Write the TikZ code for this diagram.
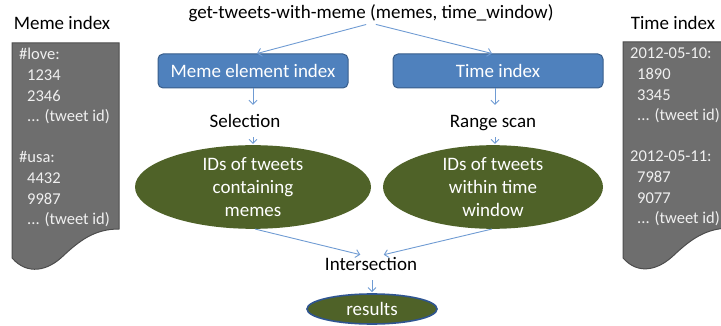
\documentclass[tikz,border=0pt]{standalone}
\usepackage{fontspec}
\setmainfont{Carlito}
\usetikzlibrary{arrows.meta,shapes.geometric,calc}
\definecolor{docfill}{HTML}{6E6E6E}
\definecolor{docline}{HTML}{4D4D4D}
\definecolor{doctxt}{HTML}{F0F0F0}
\definecolor{boxfill}{HTML}{4F81BD}
\definecolor{boxline}{HTML}{385D8A}
\definecolor{olive}{HTML}{4F6228}
\definecolor{arrowc}{HTML}{6F9BD3}
\definecolor{resline}{HTML}{2F5590}
\tikzset{
  lbl/.style={font=\fontsize{19}{22}\selectfont, inner sep=0pt, text height=13pt, text depth=4pt, anchor=base},
  doctext/.style={font=\fontsize{16.5}{20}\selectfont, text=doctxt, inner sep=0pt, anchor=base west},
  bluebox/.style={draw=boxline, fill=boxfill, line width=1pt, rounded corners=5pt, text=white,
    font=\fontsize{19}{22}\selectfont, minimum height=34pt, inner sep=0pt},
  olivell/.style={ellipse, fill=olive, text=white, font=\fontsize{19}{23}\selectfont, align=center, inner sep=0pt},
  arr/.style={draw=arrowc, line width=0.9pt, -{Straight Barb[length=4pt,width=8pt]}},
  docshape/.style={fill=docfill, draw=docline, line width=1pt}
}
\begin{document}
\begin{tikzpicture}[x=1pt,y=-1pt]
\useasboundingbox (0,0) rectangle (721,326);
% Left document
\path[docshape] (12,43) -- (119,43) -- (119,229)
  .. controls (95,229) and (80,240) .. (62,257)
  .. controls (48,270) and (28,276) .. (12,258) -- cycle;
\node[lbl] (memeidx) at (62,30) {Meme index};
\foreach \t/\x/\y [count=\i] in {\#love:/19/60, 1234/27/80.6, 2346/27/101.2, {... (tweet id)}/27/121.8,
   \#usa:/19/163, 4432/27/183.6, 9987/27/204.2, {... (tweet id)}/27/224.8}
  \node[doctext] (ml\i) at (\x,\y) {\t};
% Right document (clipped at the picture's edge)
\begin{scope}
\clip (0,0) rectangle (721,326);
\path[docshape] (623,42) -- (731,42) -- (731,228)
  .. controls (706,228) and (691,239) .. (673,256)
  .. controls (659,269) and (639,276) .. (623,258) -- cycle;
\foreach \t/\x/\y [count=\i] in {2012-05-10:/630/59, 1890/637/79.6, 3345/637/100.2, {... (tweet id)}/637/120.8,
   2012-05-11:/630/162, 7987/637/182.6, 9077/637/203.2, {... (tweet id)}/637/223.8}
  \node[doctext] (tl\i) at (\x,\y) {\t};
\end{scope}
\node[lbl] (timeidx) at (673,30) {Time index};
% Centre flow
\node[lbl] (title) at (371,19) {get-tweets-with-meme (memes, time\_window)};
\node[bluebox, minimum width=190pt] (memebox) at (253,71) {Meme element index};
\node[bluebox, minimum width=210pt] (timebox) at (498,71) {Time index};
\node[lbl] (sel) at (245,128) {Selection};
\node[lbl] (range) at (493,128) {Range scan};
\node[olivell, minimum width=236pt, minimum height=70pt] (ell1) at (253,187)
  {IDs of tweets\\containing\\memes};
\node[olivell, minimum width=220pt, minimum height=70pt] (ell2) at (493,187)
  {IDs of tweets\\within time\\window};
\node[lbl] (inter) at (371,270) {Intersection};
\node[ellipse, draw=resline, line width=1.6pt, fill=olive, text=white, font=\fontsize{19}{22}\selectfont,
  minimum width=130pt, minimum height=30pt, inner sep=0pt] (res) at (372,309) {results};
% Connectors
\draw[arr, shorten <=5pt] (title.south) -- ([xshift=4pt]memebox.north);
\draw[arr, shorten <=5pt] (title.south) -- ([xshift=-6pt]timebox.north);
\draw[arr, shorten >=10pt] (memebox.south) -- (memebox.south |- sel.north);
\draw[arr, shorten >=10pt] ([xshift=-3pt]timebox.south) -- ([xshift=-3pt]timebox.south |- range.north);
\draw[arr, shorten <=5pt, shorten >=1pt] (ell1.north |- sel.south) -- (ell1.north);
\draw[arr, shorten <=5pt, shorten >=1pt] ([xshift=2pt]ell2.north |- range.south) -- ([xshift=2pt]ell2.north);
\draw[arr, shorten >=9pt] ([xshift=2pt]ell1.south) -- ([xshift=-2pt]inter.north);
\draw[arr, shorten >=9pt] ([xshift=-1pt]ell2.south) -- ([xshift=4pt]inter.north);
\draw[arr, shorten <=6pt, shorten >=1pt] ([xshift=1pt]inter.south) -- ([xshift=1pt]inter.south |- res.north);
\end{tikzpicture}
\end{document}
